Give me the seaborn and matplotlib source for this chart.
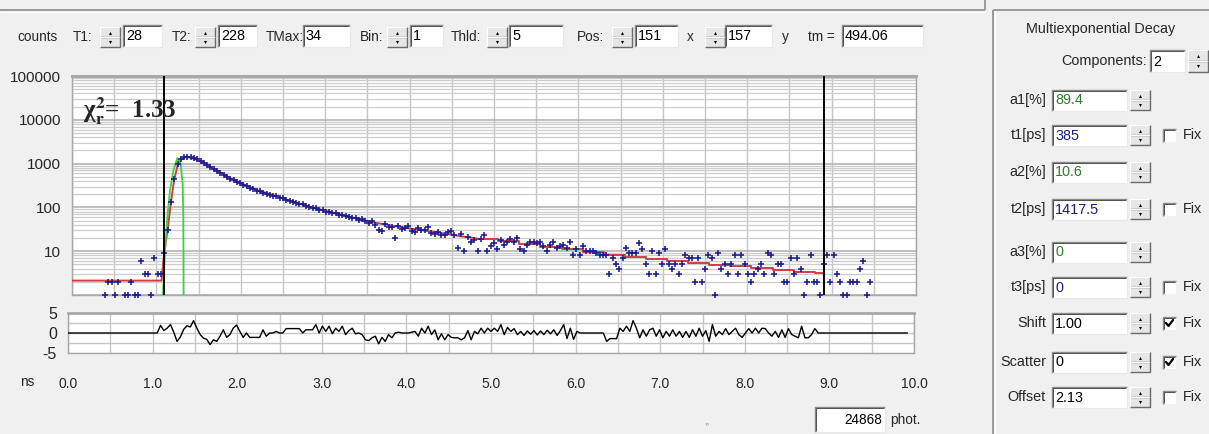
import numpy as np
import pandas as pd
import matplotlib
matplotlib.use("Agg")
import matplotlib.pyplot as plt
import seaborn as sns
from matplotlib.patches import Rectangle
from matplotlib import font_manager as fm
from matplotlib.ticker import FixedLocator, NullFormatter

# ======================= DATA =======================
DT_NS = 10.0 / 256          # width of one TCSPC channel in ns
T1_CH, T2_CH = 28, 228      # fit window (channels)

# photon counts per channel (ch 0 .. 242)
counts = [0] * 10 + [
    1, 2, 2, 1, 2, 0, 1, 1, 2, 1,
    1, 6, 3, 3, 1, 7, 3, 3, 9, 30,
    130, 450, 1000, 1250, 1400, 1390, 1380, 1330, 1250, 1120,
    1030, 915, 820, 745, 665, 600, 545, 495, 450, 420,
    382, 360, 328, 310, 282, 265, 240, 232, 214, 204,
    196, 184, 178, 163, 160, 148, 143, 130, 128, 118,
    117, 106, 103, 98, 95, 88, 87, 80, 80, 73,
    74, 68, 67, 62, 61, 57, 57, 51, 53, 48,
    44, 50, 40, 31, 29, 42, 36, 35, 20, 38,
    32, 33, 37, 29, 27, 34, 30, 31, 35, 26,
    25, 28, 24, 23, 27, 29, 24, 12, 25, 10,
    21, 16, 18, 10, 19, 23, 10, 13, 15, 11,
    18, 14, 16, 19, 16, 20, 11, 10, 14, 16,
    16, 15, 16, 13, 10, 14, 16, 12, 13, 14,
    12, 16, 8, 11, 8, 13, 10, 10, 10, 9,
    8, 8, 8, 3, 7, 5, 4, 7, 12, 9,
    9, 9, 15, 11, 5, 3, 10, 3, 9, 5,
    11, 5, 4, 5, 3, 5, 8, 7, 7, 2,
    7, 2, 4, 8, 7, 1, 9, 4, 5, 3,
    5, 8, 3, 8, 5, 3, 2, 3, 4, 5,
    3, 9, 8, 3, 5, 5, 2, 2, 7, 3,
    7, 4, 1, 2, 8, 2, 2, 1, 5, 8,
    2, 8, 3, 2, 1, 1, 2, 2, 2, 4,
    6, 1, 2,
]

# fitted model (red), head drawn as line, tail drawn as steps
fit_head_t = [0.00, 1.06, 1.09, 1.13, 1.17, 1.21, 1.25, 1.29, 1.33, 1.37, 1.41,
              1.50, 1.60, 1.75, 1.87, 2.00, 2.19, 2.35, 2.50, 2.65, 2.82, 3.00,
              3.21, 3.40, 3.61, 3.80, 4.00, 4.20, 4.40, 4.60, 4.80]
fit_head_c = [2.13, 2.13, 8, 28, 120, 420, 900, 1230, 1370, 1390, 1350,
              1180, 920, 640, 470, 360, 250, 200, 160, 130, 103, 84,
              67, 54, 44, 38, 33, 29, 25.5, 22, 19.5]
fit_tail_t = [4.80, 5.05, 5.30, 5.55, 5.80, 6.05, 6.30, 6.55, 6.80, 7.05,
              7.30, 7.55, 7.80, 8.05, 8.30, 8.55, 8.80, 8.91]
fit_tail_c = [19.0, 17.0, 14.6, 12.6, 11.0, 9.6, 8.3, 7.4, 6.6, 5.9,
              5.3, 4.9, 4.5, 4.1, 3.7, 3.4, 3.1, 3.1]

# instrument response (green)
irf_t = [1.070, 1.102, 1.130, 1.161, 1.201, 1.248, 1.287, 1.311, 1.319, 1.323]
irf_c = [0.5, 10.5, 60, 243, 690, 1340, 980, 346, 60, 0.5]

# weighted residuals per channel (ch 0 .. 254)
resid = [0.0] * 28 + [
    1.9, 0.6, 1.2, 2.1, 0.2, -2.1, -1.0, 0.9, 1.8, 1.5,
    3.1, 1.2, -0.4, -1.3, -1.6, -2.9, -1.7, -2.1, -0.8, 0.8,
    -1.1, -0.4, 1.2, 2.0, 0.4, -1.1, 0.0, -1.1, -1.1, -1.1,
    -1.1, 0.8, -0.8, 0.0, 0.0, 0.4, 0.0, 0.0, 1.1, 1.1,
    1.1, 1.1, 1.1, 0.0, 0.8, 0.8, 0.8, 2.1, 0.0, 1.7,
    0.4, 1.7, -0.2, 1.2, 0.4, 1.7, -0.4, 0.6, 1.2, -0.2,
    0.0, -0.4, -1.7, -1.9, -1.2, -0.8, -2.7, -1.1, -2.1, -0.4,
    -1.2, 0.0, 0.2, 0.0, 0.0, 0.0, 0.2, 0.4, -0.8, 1.2,
    0.0, 1.7, -0.4, 0.8, -1.7, -0.2, -1.7, -0.4, -1.1, -1.2,
    -1.2, -1.7, -1.2, 0.6, -1.7, 0.4, -0.2, 1.2, 0.0, 1.2,
    0.4, 1.2, 0.4, 2.1, -0.4, 1.4, 0.4, 1.1,
    -0.4, 0.4, -0.6, 0.5, -0.3, 0.6, -0.5, 0.5, -0.4, 0.7,
    -0.2, 0.8, -0.6, 0.6, 2.1, -1.4, 1.2, -1.6, 0.4, 0.0,
    0.0, 0.0, 0.0, 0.0, 0.0, 0.0, 0.0, -2.1, -1.4, -1.4,
    -1.4, 1.2, 0.4, 1.7, 0.4, 3.1, 1.2, -1.2, 0.8, -0.8,
    0.8, 1.2, -0.8, 0.8, -1.2, 0.4, -0.8, 0.8, -0.8, 0.4,
    -1.1, 0.4, -1.1, 0.8, -0.8, 1.2, -0.8, 0.6, -2.1, 2.1,
    -0.8, 0.4, -0.4, 1.1, -0.4, 0.4, 1.2, -0.4, -1.1, 0.0,
    1.1, 0.0, 1.2, 0.0, 1.2, 1.1, 0.0, -0.8, 0.4, -1.1,
    0.8, -1.1, 1.1, -0.4, -0.8, -1.2, 1.7, -1.2, -1.2, -0.4,
    1.1, 0.0, 0.0,
] + [0.0] * 26

y_tick_vals = [1, 10, 100, 1000, 10000, 100000]
y_tick_labels = ["", "10", "100", "1000", "10000", "100000"]
x_tick_vals = [0, 1, 2, 3, 4, 5, 6, 7, 8, 9, 10]
x_tick_labels = ["0.0", "1.0", "2.0", "3.0", "4.0", "5.0", "6.0", "7.0", "8.0", "9.0", "10.0"]
res_tick_vals = [-5, 0, 5]
res_tick_labels = ["-5", "0", "5"]

chi2_text = r"χ$_\mathbf{r}^\mathbf{2}$=  1.33"
photons_text = "24868"

toolbar_labels = ["counts", "T1:", "T2:", "TMax:", "Bin:", "Thld:", "Pos:", "x", "y", "tm ="]
toolbar_values = ["28", "228", "34", "1", "5", "151", "157", "494.06"]

panel_title = "Multiexponential Decay"
components_value = "2"
param_names = ["a1[%]", "t1[ps]", "a2[%]", "t2[ps]", "a3[%]", "t3[ps]", "Shift", "Scatter", "Offset"]
param_values = ["89.4", "385", "10.6", "1417.5", "0", "0", "1.00", "0", "2.13"]
param_fix = [None, False, None, False, None, False, True, True, False]

# ======================= STYLE / LAYOUT =======================
sns.set_style("white")


def pick(names):
    for n in names:
        try:
            fm.findfont(fm.FontProperties(family=n), fallback_to_default=False)
            return n
        except Exception:
            pass
    return None


NARROW = pick(["Liberation Sans Narrow", "Arial Narrow"])
SCALE = 1.0
if NARROW is None:
    NARROW = pick(["Liberation Sans", "Arial"]) or "DejaVu Sans"
    SCALE = 0.86
SANS = pick(["Liberation Sans", "Arial"]) or "DejaVu Sans"
SERIF = pick(["Liberation Serif", "DejaVu Serif"]) or "DejaVu Serif"
plt.rcParams["font.family"] = [NARROW, "DejaVu Sans"]
plt.rcParams["mathtext.fontset"] = "stix"

UI_FS = 11.4 * SCALE
PANEL_FS = 12 * SCALE
GREEN = "#2a7d2a"
BLUE = "#1c1c88"
BG = "#f0f0f0"

W, H = 1209, 434
fig = plt.figure(figsize=(W / 100, H / 100), dpi=100, facecolor=BG)

ax_ui = fig.add_axes([0, 0, 1, 1])
ax_ui.set_xlim(0, W)
ax_ui.set_ylim(H, 0)
ax_ui.axis("off")


def frac(x0, y0, x1, y1):
    return [x0 / W, 1 - y1 / H, (x1 - x0) / W, (y1 - y0) / H]


def line(xs, ys, color, lw=0.8):
    ax_ui.plot(xs, ys, color=color, lw=lw, solid_capstyle="butt")


def sunken_box(x0, y0, x1, y1, text=None, color="black", align="left", fs=None):
    ax_ui.add_patch(Rectangle((x0, y0), x1 - x0, y1 - y0, facecolor="white", edgecolor="none"))
    line([x0, x0, x1], [y1, y0, y0], "#8a8a8a", 1.0)
    line([x0 + 1.2, x0 + 1.2, x1 - 1], [y1 - 1, y0 + 1.2, y0 + 1.2], "#505050", 0.7)
    line([x0, x1, x1], [y1, y1, y0], "#e8e8e8", 0.8)
    if text is not None:
        if align == "left":
            ax_ui.text(x0 + 3, (y0 + y1) / 2 + 0.5, text, ha="left", va="center",
                       fontsize=fs or UI_FS, color=color)
        else:
            ax_ui.text(x1 - 3, (y0 + y1) / 2 + 0.5, text, ha="right", va="center",
                       fontsize=fs or UI_FS, color=color)


def spinner(x0, y0, x1, y1):
    ax_ui.add_patch(Rectangle((x0, y0), x1 - x0, y1 - y0, facecolor="#e6e6e6", edgecolor="none"))
    m = (y0 + y1) / 2
    for a, b in ((y0, m), (m, y1)):
        line([x0, x0, x1], [b, a, a], "white", 0.8)
        line([x0, x1, x1], [b, b, a], "#6a6a6a", 1.0)
    cx = (x0 + x1) / 2
    ax_ui.plot([cx], [(y0 + m) / 2 + 0.5], marker="^", ms=2.2, color="black", mew=0)
    ax_ui.plot([cx], [(m + y1) / 2 - 0.5], marker="v", ms=2.2, color="black", mew=0)


def checkbox(x0, yc, checked):
    s = 13
    y0 = yc - s / 2
    ax_ui.add_patch(Rectangle((x0, y0), s, s, facecolor="white", edgecolor="none"))
    line([x0, x0, x0 + s], [y0 + s, y0, y0], "#8a8a8a", 1.0)
    line([x0 + 1.2, x0 + 1.2, x0 + s - 1], [y0 + s - 1, y0 + 1.2, y0 + 1.2], "#505050", 0.7)
    if checked:
        ax_ui.plot([x0 + 3, x0 + 5.5, x0 + 10], [yc, yc + 3, yc - 3], color="black", lw=1.6)


# ----- separators
line([0, 985], [10, 10], "#9a9a9a", 1.4)
line([0, 985], [11.5, 11.5], "white", 0.8)
line([985, 985], [0, 10], "#9a9a9a", 1.4)
line([993, 993], [10, H], "#9a9a9a", 1.4)
line([994.5, 994.5], [11, H], "white", 0.8)
line([993, W], [10, 10], "#9a9a9a", 1.4)

# ----- toolbar
TY = 36
TOOL_FS = 9.8
label_x = [17, 73, 172, 266, 360, 451, 577, 687, 782, 808]
for txt, x in zip(toolbar_labels, label_x):
    ax_ui.text(x, TY + 1, txt, ha="left", va="center", fontsize=TOOL_FS)
box_x = [(123, 162), (218, 257), (303, 350), (410, 443), (509, 563), (635, 678), (725, 772), (842, 923)]
for (x0, x1), v in zip(box_x, toolbar_values):
    sunken_box(x0, 25, x1, 47, v, fs=TOOL_FS + 0.6)
for x0 in [100, 195, 387, 487, 612, 705]:
    spinner(x0, 27, x0 + 20, 47)

# ----- bottom info
ax_ui.text(20, 382, "ns", ha="left", va="center", fontsize=UI_FS)
ax_ui.text(707, 421, ",,", ha="center", va="center", fontsize=7, color="#888888")
sunken_box(815, 407, 885, 432, photons_text, align="right")
ax_ui.text(890, 420, "phot.", ha="left", va="center", fontsize=UI_FS)

# ----- right panel
ax_ui.text(1101, 29, panel_title, ha="center", va="center", fontsize=PANEL_FS)
ax_ui.text(1147, 61, "Components:", ha="right", va="center", fontsize=PANEL_FS)
sunken_box(1150, 50, 1185, 72, components_value, fs=PANEL_FS)
spinner(1188, 50, 1208, 72)
row_y = [100, 135, 172, 209, 252, 287, 323, 362, 397]
for name, val, fix, yc in zip(param_names, param_values, param_fix, row_y):
    col = GREEN if name.startswith("a") else (BLUE if name.startswith("t") else "black")
    ax_ui.text(1046, yc, name, ha="right", va="center", fontsize=PANEL_FS)
    sunken_box(1052, yc - 10.5, 1127, yc + 10.5, val, color=col, fs=PANEL_FS)
    spinner(1130, yc - 10, 1150, yc + 10)
    if fix is not None:
        checkbox(1163, yc, fix)
        ax_ui.text(1183, yc, "Fix", ha="left", va="center", fontsize=PANEL_FS)

# ======================= MAIN DECAY PLOT =======================
ax = fig.add_axes(frac(72, 76, 916, 295))
ax.set_facecolor("white")
ax.set_yscale("log")

df = pd.DataFrame({"t": np.arange(len(counts)) * DT_NS, "counts": counts})
df = df[df["counts"] > 0]

ax.set_xticks(np.arange(0, 10.01, 0.5))
ax.yaxis.set_major_locator(FixedLocator(y_tick_vals))
ax.yaxis.set_minor_locator(FixedLocator(
    [m * 10 ** e for e in range(0, 5) for m in range(2, 10)]))
ax.yaxis.set_minor_formatter(NullFormatter())
ax.grid(True, which="major", axis="x", color="#c6c6c6", lw=1.0)
ax.grid(True, which="major", axis="y", color="#b4b4b4", lw=1.2)
ax.grid(True, which="minor", axis="y", color="#cdcdcd", lw=0.9)
ax.set_axisbelow(True)

sns.lineplot(x=fit_head_t, y=fit_head_c, ax=ax, estimator=None, sort=False,
             color="#d23c46", linewidth=1.4, zorder=3)
sns.lineplot(x=fit_tail_t, y=fit_tail_c, ax=ax, estimator=None, sort=False,
             color="#d23c46", linewidth=1.4, zorder=3, drawstyle="steps-post")
sns.lineplot(x=irf_t, y=irf_c, ax=ax, estimator=None, sort=False,
             color="#3ed23e", linewidth=1.3, zorder=3)
sns.scatterplot(data=df, x="t", y="counts", ax=ax, marker="+", s=22,
                color="#1d1d90", linewidth=1.15, zorder=4, clip_on=False, legend=False)
ax.axvline(T1_CH * DT_NS, color="black", lw=1.4, zorder=5)
ax.axvline(T2_CH * DT_NS, color="black", lw=1.4, zorder=5)

ax.set_xlim(0, 10)
ax.set_ylim(1, 1e5)
ax.set_yticklabels(y_tick_labels, fontfamily=SANS, fontsize=11)
ax.tick_params(axis="x", length=0, labelbottom=False)
ax.tick_params(axis="y", which="major", length=7, width=1, color="#404040",
               direction="out", pad=1)
ax.tick_params(axis="y", which="minor", length=0)
ax.set_xlabel("")
ax.set_ylabel("")
for side, sp in ax.spines.items():
    sp.set_color("#a8a8a8")
    sp.set_linewidth(1.0)
ax.spines["top"].set_linewidth(2.2)

ax.text(0.013, 0.805, chi2_text, transform=ax.transAxes, fontsize=18,
        fontfamily=SERIF, fontweight="bold", ha="left", va="baseline", zorder=6)

# ======================= RESIDUALS =======================
ar = fig.add_axes(frac(68, 313, 914, 353))
ar.set_facecolor("white")
res_t = np.arange(len(resid)) * DT_NS
sns.lineplot(x=res_t, y=resid, ax=ar, estimator=None, sort=False,
             color="black", linewidth=1.0, zorder=3)
ar.set_xlim(0, 10)
ar.set_ylim(-5, 5)
ar.xaxis.set_major_locator(FixedLocator(x_tick_vals))
ar.xaxis.set_minor_locator(FixedLocator(np.arange(0.5, 10, 1.0)))
ar.set_xticklabels(x_tick_labels, fontsize=11.5)
ar.yaxis.set_major_locator(FixedLocator(res_tick_vals))
ar.yaxis.set_minor_locator(FixedLocator([-2.5, 2.5]))
ar.set_yticklabels(res_tick_labels, fontsize=11.5)
ar.grid(True, which="both", axis="both", color="#c6c6c6", lw=1.0)
ar.set_axisbelow(True)
ar.spines["bottom"].set_position(("outward", 4))
ar.spines["bottom"].set_visible(False)
ar.axhline(-5, color="#a8a8a8", lw=1.0, clip_on=False, zorder=2)
for s in ["left", "right", "top"]:
    ar.spines[s].set_color("#a8a8a8")
    ar.spines[s].set_linewidth(1.0)
ar.spines["top"].set_linewidth(2.0)
ar.tick_params(axis="x", which="major", length=7, width=1.4, color="#303030",
               direction="out", pad=6)
ar.tick_params(axis="x", which="minor", length=4, width=1.4, color="#303030",
               direction="out")
ar.tick_params(axis="y", which="major", length=7, width=1, color="#404040",
               direction="out", pad=1)
ar.tick_params(axis="y", which="minor", length=4, width=1, color="#404040",
               direction="out")
ar.set_xlabel("")
ar.set_ylabel("")

fig.savefig("out.png", dpi=100, facecolor=BG)
